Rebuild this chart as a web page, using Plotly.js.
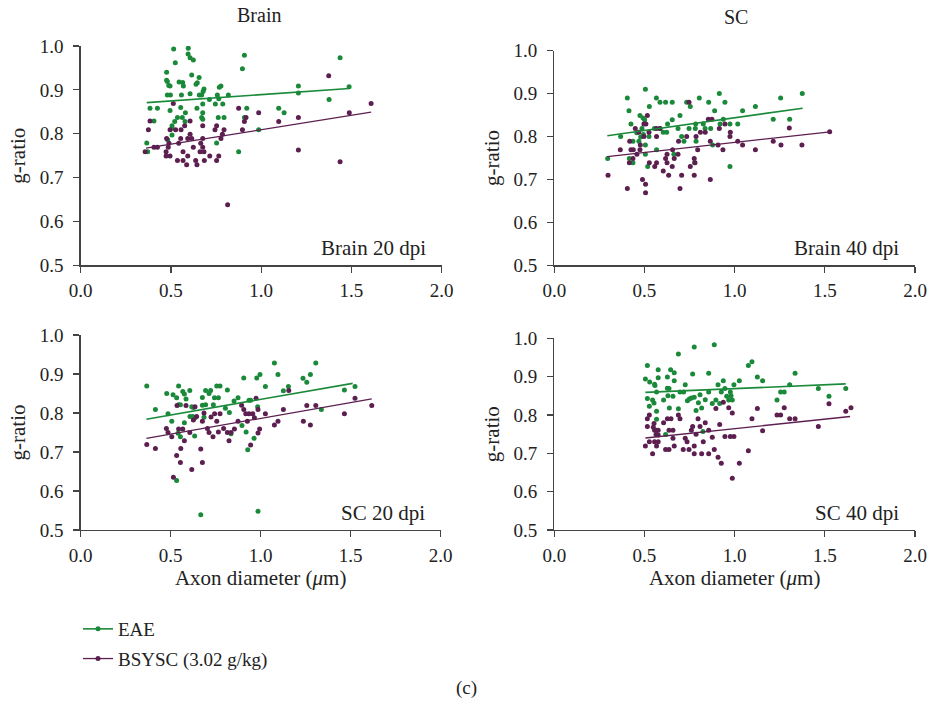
<!DOCTYPE html>
<html>
<head>
<meta charset="utf-8">
<script src="https://cdn.plot.ly/plotly-3.0.1.min.js"></script>
<style>html,body{margin:0;padding:0;background:#fff;}#chart{width:930px;height:708px;}</style>
</head>
<body>
<div id="chart"></div>
<script>
// ---------- DATA ----------
// Panel 1: Brain 20 dpi
const b20_eae_x = [0.515,0.596,0.595,0.606,0.624,0.524,0.907,1.437,0.896,0.476,0.615,0.656,0.476,0.480,0.545,0.565,0.639,0.646,0.488,0.495,0.569,0.777,0.768,0.683,1.206,1.487,1.206,0.678,0.480,0.497,0.558,0.606,0.657,0.670,0.757,0.818,0.713,0.765,1.376,0.676,0.746,0.787,0.384,0.425,0.495,0.554,0.644,0.676,0.920,1.097,1.127,0.536,0.580,0.563,0.670,0.676,0.762,0.794,0.907,0.406,0.521,0.578,0.506,0.506,0.506,0.986,0.482,0.753,0.366,0.371,0.875];
const b20_eae_y = [0.993,0.995,0.982,0.973,0.968,0.962,0.979,0.973,0.948,0.940,0.934,0.928,0.922,0.919,0.918,0.917,0.913,0.916,0.910,0.909,0.909,0.909,0.906,0.902,0.909,0.907,0.893,0.896,0.888,0.888,0.888,0.891,0.888,0.888,0.888,0.888,0.878,0.880,0.878,0.868,0.868,0.868,0.858,0.858,0.853,0.860,0.858,0.848,0.858,0.858,0.848,0.837,0.848,0.837,0.837,0.833,0.837,0.837,0.837,0.829,0.828,0.828,0.818,0.812,0.797,0.809,0.786,0.779,0.779,0.759,0.759];
const b20_bsysc_x = [1.374,1.609,1.488,0.513,0.875,0.986,0.916,0.907,1.097,1.206,0.384,0.606,0.375,0.495,0.526,0.556,0.576,0.676,0.744,0.753,0.794,0.896,0.606,0.785,0.476,0.554,0.593,0.615,0.676,0.777,0.489,0.543,0.665,0.406,0.425,0.485,0.624,0.676,0.357,0.473,0.567,0.661,0.683,0.473,0.495,0.593,0.715,0.765,0.536,0.567,0.637,0.685,0.753,0.587,0.644,1.206,1.437,0.814];
const b20_bsysc_y = [0.932,0.869,0.848,0.869,0.858,0.848,0.837,0.828,0.828,0.837,0.829,0.829,0.809,0.809,0.809,0.809,0.818,0.818,0.809,0.818,0.809,0.809,0.799,0.799,0.789,0.789,0.789,0.789,0.789,0.789,0.778,0.778,0.778,0.769,0.769,0.769,0.769,0.769,0.759,0.759,0.759,0.759,0.759,0.749,0.749,0.749,0.749,0.749,0.739,0.739,0.739,0.739,0.739,0.729,0.729,0.763,0.736,0.638];
const b20_eae_fitX = [0.366,1.488], b20_eae_fitY = [0.871,0.903];
const b20_bsysc_fitX = [0.362,1.609], b20_bsysc_fitY = [0.767,0.849];

// Panel 2: Brain 40 dpi
const b40_eae_x = [0.505,0.405,0.566,0.586,0.617,0.654,0.734,0.804,0.856,0.915,0.946,1.255,1.375,0.414,0.527,0.754,0.889,1.044,1.115,0.475,0.492,0.501,0.697,0.654,0.628,0.425,0.486,0.555,0.586,0.686,0.747,0.784,0.826,0.782,0.836,0.867,0.937,0.919,0.974,1.017,1.214,1.305,0.457,0.479,0.494,0.525,0.368,0.604,0.623,0.706,0.469,0.436,0.505,0.719,0.786,0.878,0.296,0.416,0.436,0.567,0.505,0.663,0.518,0.778,0.974];
const b40_eae_y = [0.910,0.890,0.890,0.880,0.880,0.880,0.880,0.890,0.880,0.900,0.880,0.890,0.900,0.860,0.870,0.870,0.860,0.860,0.870,0.849,0.843,0.839,0.849,0.839,0.829,0.829,0.819,0.819,0.819,0.819,0.819,0.829,0.829,0.819,0.819,0.819,0.840,0.829,0.829,0.829,0.840,0.840,0.809,0.799,0.805,0.800,0.800,0.810,0.810,0.800,0.789,0.789,0.780,0.789,0.789,0.780,0.749,0.749,0.739,0.769,0.759,0.759,0.730,0.739,0.730];
const b40_bsysc_x = [0.516,0.747,0.449,0.497,0.508,0.567,0.586,0.418,0.468,0.525,0.567,0.734,0.786,0.810,0.837,0.854,0.874,0.915,0.946,0.976,0.974,0.689,0.865,0.908,1.017,1.044,1.214,1.303,1.527,1.257,1.373,1.115,0.935,0.366,0.425,0.438,0.475,0.458,0.656,0.665,0.795,0.617,0.625,0.436,0.416,0.527,0.567,0.625,0.780,0.557,0.654,0.754,0.776,0.604,0.634,0.706,0.776,0.298,0.489,0.865,0.506,0.405,0.697,0.506,0.497,0.477,0.686];
const b40_bsysc_y = [0.849,0.880,0.819,0.829,0.829,0.819,0.819,0.789,0.810,0.810,0.800,0.800,0.800,0.810,0.810,0.840,0.840,0.819,0.829,0.810,0.800,0.789,0.789,0.780,0.789,0.780,0.789,0.820,0.811,0.780,0.780,0.769,0.769,0.769,0.769,0.769,0.769,0.759,0.769,0.749,0.769,0.749,0.759,0.749,0.739,0.739,0.739,0.739,0.739,0.730,0.730,0.730,0.749,0.720,0.710,0.710,0.710,0.710,0.700,0.700,0.689,0.679,0.679,0.669,0.800,0.780,0.759];
const b40_eae_fitX = [0.294,1.377], b40_eae_fitY = [0.802,0.866];
const b40_bsysc_fitX = [0.294,1.529], b40_bsysc_fitY = [0.753,0.811];

// Panel 3: SC 20 dpi
const s20_eae_x = [0.367,0.415,0.478,0.485,0.506,0.513,0.533,0.544,0.544,0.554,0.541,0.554,0.567,0.576,0.585,0.576,0.606,0.607,0.617,0.622,0.633,0.626,0.635,0.676,0.676,0.685,0.694,0.694,0.713,0.722,0.737,0.743,0.756,0.765,0.774,0.804,0.815,0.826,0.835,0.852,0.874,0.896,0.906,0.919,0.928,0.935,0.944,0.963,0.978,0.983,0.996,1.026,1.096,1.076,1.126,1.154,1.235,1.256,1.276,1.306,1.337,1.465,1.524,0.533,0.667,0.985];
const s20_eae_y = [0.869,0.809,0.850,0.798,0.779,0.847,0.839,0.869,0.821,0.821,0.748,0.739,0.855,0.849,0.836,0.775,0.858,0.791,0.816,0.791,0.741,0.814,0.788,0.840,0.820,0.789,0.858,0.821,0.850,0.858,0.821,0.839,0.869,0.839,0.869,0.812,0.859,0.801,0.747,0.831,0.839,0.768,0.890,0.751,0.706,0.833,0.833,0.735,0.890,0.816,0.899,0.868,0.899,0.928,0.857,0.868,0.889,0.879,0.899,0.928,0.809,0.859,0.868,0.627,0.539,0.548];
const s20_bsysc_x = [0.367,0.415,0.476,0.485,0.506,0.515,0.533,0.535,0.544,0.554,0.556,0.567,0.576,0.585,0.606,0.617,0.626,0.635,0.644,0.667,0.676,0.676,0.685,0.704,0.713,0.724,0.735,0.744,0.756,0.765,0.774,0.794,0.815,0.824,0.835,0.854,0.874,0.894,0.906,0.917,0.926,0.935,0.944,0.956,0.965,0.974,0.985,0.985,0.994,1.026,1.076,1.096,1.126,1.156,1.237,1.256,1.276,1.306,1.465,1.524,1.617];
const s20_bsysc_y = [0.719,0.709,0.760,0.750,0.739,0.635,0.691,0.819,0.759,0.673,0.709,0.759,0.729,0.819,0.750,0.655,0.782,0.816,0.791,0.708,0.673,0.779,0.800,0.760,0.750,0.790,0.739,0.798,0.779,0.751,0.798,0.760,0.750,0.729,0.750,0.759,0.779,0.820,0.809,0.798,0.779,0.798,0.718,0.798,0.788,0.838,0.749,0.809,0.759,0.798,0.769,0.779,0.809,0.858,0.779,0.819,0.769,0.819,0.798,0.838,0.819];
const s20_eae_fitX = [0.365,1.511], s20_eae_fitY = [0.784,0.876];
const s20_bsysc_fitX = [0.365,1.617], s20_bsysc_fitY = [0.735,0.836];

// Panel 4: SC 40 dpi
const s40_eae_x = [0.505,0.516,0.516,0.529,0.527,0.545,0.553,0.556,0.558,0.567,0.567,0.567,0.576,0.576,0.606,0.617,0.627,0.627,0.630,0.636,0.638,0.645,0.658,0.665,0.665,0.688,0.688,0.697,0.717,0.726,0.738,0.749,0.760,0.767,0.776,0.776,0.786,0.799,0.808,0.817,0.837,0.824,0.856,0.856,0.876,0.887,0.896,0.908,0.917,0.926,0.937,0.946,0.956,0.967,0.976,0.980,0.987,0.996,1.026,1.076,1.096,1.126,1.155,1.235,1.255,1.275,1.305,1.335,1.464,1.523,1.616];
const s40_eae_y = [0.894,0.929,0.843,0.886,0.823,0.839,0.831,0.880,0.877,0.860,0.810,0.789,0.918,0.897,0.839,0.749,0.899,0.870,0.850,0.869,0.818,0.918,0.849,0.910,0.889,0.959,0.816,0.860,0.860,0.879,0.837,0.842,0.844,0.907,0.846,0.977,0.812,0.832,0.853,0.818,0.840,0.757,0.909,0.860,0.830,0.983,0.839,0.879,0.830,0.860,0.889,0.869,0.849,0.839,0.860,0.850,0.839,0.879,0.889,0.929,0.939,0.899,0.889,0.839,0.860,0.860,0.879,0.909,0.869,0.849,0.869];
const s40_bsysc_x = [0.505,0.516,0.527,0.516,0.527,0.545,0.549,0.553,0.556,0.556,0.564,0.567,0.567,0.576,0.576,0.576,0.606,0.617,0.627,0.636,0.636,0.647,0.658,0.658,0.665,0.688,0.697,0.715,0.726,0.736,0.747,0.760,0.767,0.776,0.776,0.786,0.797,0.808,0.817,0.826,0.837,0.856,0.856,0.876,0.887,0.896,0.908,0.917,0.926,0.937,0.946,0.967,0.976,0.987,0.996,0.987,1.026,1.076,1.096,1.126,1.155,1.235,1.255,1.275,1.305,1.335,1.464,1.523,1.616,1.645];
const s40_bsysc_y = [0.719,0.790,0.800,0.770,0.730,0.699,0.768,0.778,0.760,0.730,0.749,0.719,0.760,0.760,0.730,0.748,0.780,0.710,0.790,0.710,0.760,0.790,0.739,0.760,0.719,0.800,0.790,0.710,0.739,0.730,0.710,0.760,0.770,0.719,0.699,0.750,0.790,0.770,0.699,0.730,0.780,0.760,0.699,0.742,0.710,0.817,0.690,0.775,0.674,0.833,0.744,0.819,0.744,0.805,0.744,0.635,0.674,0.707,0.790,0.817,0.759,0.800,0.800,0.819,0.790,0.790,0.770,0.829,0.810,0.819];
const s40_eae_fitX = [0.505,1.616], s40_eae_fitY = [0.859,0.881];
const s40_bsysc_fitX = [0.505,1.640], s40_bsysc_fitY = [0.740,0.796];

const seriesNames = ["EAE", "BSYSC (3.02 g/kg)"];
const columnTitles = ["Brain", "SC"];
const panelLabels = ["Brain 20 dpi", "Brain 40 dpi", "SC 20 dpi", "SC 40 dpi"];
const xTickVals = [0, 0.5, 1.0, 1.5, 2.0];
const yTickVals = [0.5, 0.6, 0.7, 0.8, 0.9, 1.0];

// ---------- STYLE ----------
const GREEN = "#1a8a3a";
const PURPLE = "#5c1f50";
const FONT = "'Liberation Serif', 'Times New Roman', serif";
const TXT = "#222";
const W = 930, H = 708;

const panels = [
  {ex:b20_eae_x, ey:b20_eae_y, bx:b20_bsysc_x, by:b20_bsysc_y, efx:b20_eae_fitX, efy:b20_eae_fitY, bfx:b20_bsysc_fitX, bfy:b20_bsysc_fitY,
   px:[80.7,441.7], py:[46,265.3]},
  {ex:b40_eae_x, ey:b40_eae_y, bx:b40_bsysc_x, by:b40_bsysc_y, efx:b40_eae_fitX, efy:b40_eae_fitY, bfx:b40_bsysc_fitX, bfy:b40_bsysc_fitY,
   px:[554.3,915], py:[50.7,265.3]},
  {ex:s20_eae_x, ey:s20_eae_y, bx:s20_bsysc_x, by:s20_bsysc_y, efx:s20_eae_fitX, efy:s20_eae_fitY, bfx:s20_bsysc_fitX, bfy:s20_bsysc_fitY,
   px:[80.7,440.7], py:[335,530]},
  {ex:s40_eae_x, ey:s40_eae_y, bx:s40_bsysc_x, by:s40_bsysc_y, efx:s40_eae_fitX, efy:s40_eae_fitY, bfx:s40_bsysc_fitX, bfy:s40_bsysc_fitY,
   px:[554.3,915], py:[338.3,530]}
];

const traces = [];
const layout = {
  width: W, height: H,
  margin: {l:0, r:0, t:0, b:0},
  paper_bgcolor: "#fff", plot_bgcolor: "#fff",
  font: {family: FONT, size: 19, color: TXT},
  showlegend: true,
  legend: {x: 78/W, y: 1 - 610/H, xanchor: "left", yanchor: "top",
           font: {family: FONT, size: 19, color: TXT}, bgcolor: "rgba(0,0,0,0)",
           tracegroupgap: 2, traceorder: "grouped"},
  annotations: [], shapes: []
};

panels.forEach((p, i) => {
  const n = i + 1;
  const xa = "x" + (n === 1 ? "" : n), ya = "y" + (n === 1 ? "" : n);
  traces.push({x:p.ex, y:p.ey, xaxis:xa, yaxis:ya, type:"scatter", mode:"markers",
    marker:{color:GREEN, size:5}, showlegend:false, hoverinfo:"skip"});
  traces.push({x:p.bx, y:p.by, xaxis:xa, yaxis:ya, type:"scatter", mode:"markers",
    marker:{color:PURPLE, size:5}, showlegend:false, hoverinfo:"skip"});
  traces.push({x:p.efx, y:p.efy, xaxis:xa, yaxis:ya, type:"scatter", mode:"lines",
    line:{color:GREEN, width:1.6}, showlegend:false, hoverinfo:"skip"});
  traces.push({x:p.bfx, y:p.bfy, xaxis:xa, yaxis:ya, type:"scatter", mode:"lines",
    line:{color:PURPLE, width:1.3}, showlegend:false, hoverinfo:"skip"});

  const axCommon = {showgrid:false, zeroline:false, showline:true, linecolor:"#444", linewidth:1.3,
    ticks:"outside", ticklen:6, tickwidth:1.2, tickcolor:"#444",
    tickfont:{family:FONT, size:19, color:TXT}, tickformat:".1f", fixedrange:true};
  layout["xaxis" + (n === 1 ? "" : n)] = Object.assign({}, axCommon, {
    domain:[p.px[0]/W, p.px[1]/W], range:[0,2], tickvals:xTickVals, anchor:ya, ticklabelstandoff:2,
    title: (n >= 3) ? {text:"Axon diameter (<i>μ</i>m)", font:{family:FONT,size:21,color:TXT}, standoff:2} : undefined
  });
  layout["yaxis" + (n === 1 ? "" : n)] = Object.assign({}, axCommon, {
    domain:[1 - p.py[1]/H, 1 - p.py[0]/H], range:[0.5,1.0], tickvals:yTickVals, anchor:xa, ticklabelstandoff:6,
    title:{text:"g-ratio", font:{family:FONT,size:21,color:TXT}, standoff:8}
  });
  layout.annotations.push({xref:"paper", yref:"paper", x:(p.px[1]-14)/W, y:1-(p.py[1]-3)/H,
    xanchor:"right", yanchor:"bottom", text:panelLabels[i], showarrow:false,
    font:{family:FONT, size:21, color:TXT}});
});

// column titles
layout.annotations.push({xref:"paper", yref:"paper", x:259/W, y:1-15/H, xanchor:"center", yanchor:"middle",
  text:columnTitles[0], showarrow:false, font:{family:FONT,size:20,color:TXT}});
layout.annotations.push({xref:"paper", yref:"paper", x:736/W, y:1-17/H, xanchor:"center", yanchor:"middle",
  text:columnTitles[1], showarrow:false, font:{family:FONT,size:20,color:TXT}});
// (c)
layout.annotations.push({xref:"paper", yref:"paper", x:466/W, y:1-688/H, xanchor:"center", yanchor:"middle",
  text:"(c)", showarrow:false, font:{family:FONT,size:19,color:TXT}});

// legend entries
traces.push({x:[null], y:[null], type:"scatter", mode:"lines+markers", name:seriesNames[0], legendgroup:"a",
  line:{color:GREEN, width:1.6}, marker:{color:GREEN, size:5}});
traces.push({x:[null], y:[null], type:"scatter", mode:"lines+markers", name:seriesNames[1], legendgroup:"b",
  line:{color:PURPLE, width:1.3}, marker:{color:PURPLE, size:5}});

Plotly.newPlot("chart", traces, layout, {staticPlot:true, displayModeBar:false});
</script>
</body>
</html>
